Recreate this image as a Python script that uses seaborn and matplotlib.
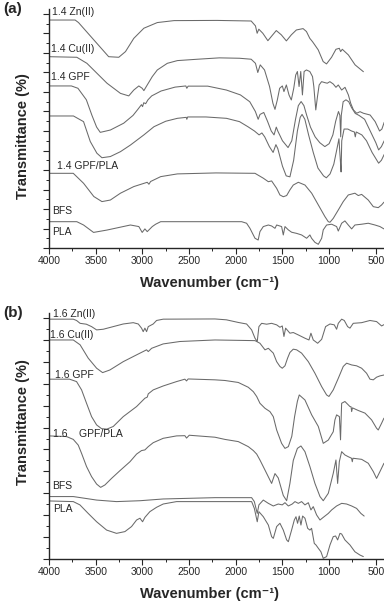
import numpy as np
import pandas as pd
import matplotlib
matplotlib.use("Agg")
import matplotlib.pyplot as plt
from matplotlib.ticker import MultipleLocator
import seaborn as sns

# FTIR spectra: (wavenumber in cm-1, transmittance in offset units)
# ---- panel (a), top to bottom ----
a_zn = [(4000, 11.69), (3720, 11.69), (3684, 11.56), (3361, 9.81), (3253, 9.78), (3181, 10.07),
        (3092, 10.75), (2984, 11.27), (2840, 11.56), (2661, 11.66), (2200, 11.67), (1835, 11.64),
        (1789, 11.39), (1771, 11.01), (1753, 11.22), (1710, 11.01), (1656, 10.63), (1620, 10.84),
        (1566, 11.15), (1512, 10.93), (1458, 10.62), (1405, 10.93), (1351, 11.18), (1279, 11.25),
        (1243, 11.10), (1207, 10.75), (1178, 10.58), (1153, 10.41), (1117, 10.16), (1064, 9.56),
        (1028, 9.44), (974, 9.78), (927, 10.19), (891, 10.24), (877, 10.07), (859, 10.19),
        (794, 9.90), (722, 9.39), (633, 9.04)]
a_cu = [(4000, 9.81), (3702, 9.78), (3594, 9.47), (3379, 8.45), (3235, 7.93), (3146, 7.80),
        (3092, 8.10), (3038, 8.31), (3002, 8.19), (2984, 8.07), (2948, 8.36), (2894, 8.79),
        (2840, 9.13), (2733, 9.47), (2625, 9.61), (2410, 9.68), (2176, 9.75), (1961, 9.73),
        (1835, 9.68), (1789, 9.47), (1764, 9.00), (1738, 9.39), (1692, 9.13), (1638, 8.28),
        (1602, 7.42), (1580, 7.11), (1555, 7.59), (1530, 8.19), (1501, 8.31), (1484, 8.02),
        (1458, 8.36), (1430, 7.85), (1405, 7.59), (1379, 8.19), (1358, 8.87), (1340, 9.05),
        (1322, 8.28), (1304, 9.05), (1286, 7.85), (1268, 9.05), (1243, 9.13), (1207, 9.05),
        (1178, 8.79), (1164, 8.28), (1143, 7.08), (1125, 7.76), (1107, 8.36), (1081, 8.53),
        (1046, 8.48), (1020, 8.45), (992, 8.53), (956, 8.41), (927, 8.24), (902, 8.36),
        (866, 8.10), (830, 8.24), (794, 7.85), (769, 7.42), (740, 7.08), (705, 6.91),
        (669, 6.99), (633, 6.91), (561, 6.82), (507, 6.48), (460, 6.00), (435, 6.10), (410, 6.45)]
a_gpf = [(4000, 8.31), (3760, 8.31), (3690, 8.19), (3600, 7.60), (3540, 6.80), (3490, 6.20),
         (3451, 5.93), (3343, 6.05), (3200, 6.40), (3100, 6.80), (3050, 7.10), (3010, 7.35),
         (2998, 7.25), (2985, 7.45), (2965, 7.40), (2940, 7.60), (2900, 7.80), (2800, 8.05),
         (2650, 8.25), (2535, 8.31), (2524, 8.19), (2510, 8.30), (2300, 8.30), (2100, 8.10),
         (1950, 7.85), (1850, 7.50), (1790, 7.00), (1760, 6.60), (1740, 6.85), (1700, 6.95),
         (1660, 6.50), (1620, 6.00), (1590, 5.80), (1566, 6.20), (1550, 6.00), (1500, 5.50),
         (1440, 5.15), (1400, 5.50), (1360, 6.60), (1330, 7.30), (1300, 7.51), (1270, 7.30),
         (1240, 6.80), (1200, 6.20), (1150, 5.70), (1100, 5.40), (1046, 5.20), (1000, 5.35),
         (960, 5.80), (930, 6.50), (900, 7.00), (885, 6.80), (876, 5.70), (870, 6.80),
         (850, 7.50), (820, 7.60), (790, 7.50), (760, 7.20), (720, 6.90), (680, 6.80),
         (620, 6.60), (560, 6.00), (500, 5.40), (470, 5.03), (440, 5.20), (410, 5.50)]
a_mix = [(4000, 6.77), (3738, 6.77), (3630, 6.48), (3558, 5.46), (3487, 4.86), (3433, 4.63),
         (3343, 4.69), (3235, 4.94), (3128, 5.28), (2984, 5.80), (2876, 6.22), (2750, 6.50),
         (2625, 6.65), (2530, 6.70), (2524, 6.60), (2515, 6.72), (2320, 6.72), (2100, 6.65),
         (1960, 6.48), (1870, 6.22), (1800, 6.00), (1750, 5.80), (1720, 5.90), (1690, 5.70),
         (1640, 5.20), (1600, 4.90), (1570, 5.30), (1550, 5.10), (1500, 4.20), (1460, 3.70),
         (1420, 3.65), (1380, 4.50), (1340, 6.00), (1310, 6.70), (1290, 6.85), (1260, 6.60),
         (1220, 5.80), (1170, 4.90), (1120, 4.10), (1060, 3.70), (1030, 3.60), (990, 3.80),
         (950, 4.30), (920, 5.00), (895, 5.60), (880, 4.50), (872, 3.90), (865, 5.50),
         (840, 6.10), (800, 6.10), (760, 6.00), (730, 5.95), (720, 5.70), (710, 5.95),
         (650, 5.80), (600, 5.50), (540, 4.90), (470, 4.35), (440, 4.50), (410, 4.80)]
a_gpfpla = [(4000, 3.83), (3740, 3.83), (3630, 3.32), (3520, 2.64), (3433, 2.38), (3343, 2.46),
            (3235, 2.81), (3092, 3.15), (2948, 3.37), (2930, 3.27), (2912, 3.41), (2804, 3.66),
            (2625, 3.80), (2212, 3.85), (1794, 3.83), (1705, 3.58), (1651, 3.40), (1616, 3.44),
            (1562, 3.06), (1527, 2.72), (1491, 2.63), (1455, 2.69), (1420, 2.98), (1384, 3.23),
            (1330, 3.37), (1259, 3.23), (1187, 2.81), (1116, 2.21), (1045, 1.61), (1009, 1.35),
            (991, 1.32), (956, 1.52), (902, 1.95), (849, 2.38), (795, 2.72), (724, 2.81),
            (688, 2.69), (652, 2.75), (581, 2.46), (527, 2.12), (474, 2.07), (438, 2.21), (413, 2.35)]
a_pla = [(4000, 1.35), (3702, 1.35), (3630, 1.18), (3523, 0.80), (3380, 0.92), (3128, 1.18),
         (3038, 1.10), (3002, 0.80), (2973, 0.98), (2948, 0.84), (2894, 1.10), (2858, 1.22),
         (2804, 1.35), (1937, 1.35), (1884, 1.27), (1848, 1.01), (1794, 0.50), (1760, 0.41),
         (1741, 0.84), (1705, 1.10), (1651, 1.18), (1616, 1.13), (1580, 1.01), (1562, 1.18),
         (1509, 1.10), (1491, 0.67), (1473, 1.10), (1437, 0.93), (1402, 0.81), (1348, 0.75),
         (1295, 0.67), (1241, 0.50), (1206, 0.67), (1188, 0.50), (1152, 0.29), (1116, 0.19),
         (1080, 0.50), (1063, 0.93), (1027, 1.18), (973, 1.22), (920, 1.10), (902, 0.87),
         (866, 1.27), (831, 1.39), (795, 1.18), (759, 0.98), (724, 1.18), (652, 1.22),
         (581, 1.27), (509, 1.18), (456, 1.10), (413, 0.98)]

# ---- panel (b), top to bottom ----
b_zn = [(4000, 10.95), (3740, 10.95), (3705, 10.89), (3667, 10.76), (3600, 10.72), (3544, 10.61),
        (3490, 10.46), (3419, 10.49), (3312, 10.61), (3205, 10.73), (3098, 10.79), (3044, 10.73),
        (3009, 10.54), (2991, 10.38), (2973, 10.54), (2955, 10.38), (2937, 10.61), (2884, 10.73),
        (2848, 10.89), (2777, 10.95), (2223, 10.96), (2100, 10.92), (1973, 10.80), (1884, 10.73),
        (1830, 10.46), (1794, 10.08), (1770, 9.93), (1752, 10.61), (1723, 10.76), (1670, 10.72),
        (1616, 10.76), (1562, 10.69), (1527, 10.58), (1502, 10.64), (1484, 10.16), (1466, 10.54),
        (1420, 10.31), (1384, 10.34), (1330, 10.23), (1259, 10.08), (1216, 10.00), (1195, 10.31),
        (1170, 10.00), (1123, 9.85), (1080, 10.03), (1038, 10.61), (991, 10.73), (945, 10.69),
        (920, 10.49), (902, 10.76), (866, 10.95), (838, 10.89), (802, 10.61), (777, 10.54),
        (742, 10.76), (652, 10.79), (563, 10.89), (492, 10.84), (438, 10.64), (413, 10.70)]
b_cu = [(4000, 10.00), (3740, 10.00), (3667, 9.78), (3580, 9.17), (3490, 8.71), (3426, 8.51),
        (3348, 8.63), (3205, 9.01), (3062, 9.32), (2955, 9.55), (2937, 9.47), (2901, 9.62),
        (2777, 9.82), (2598, 9.93), (2223, 10.00), (1794, 9.97), (1741, 9.85), (1687, 9.55),
        (1651, 9.62), (1598, 9.40), (1562, 9.01), (1527, 8.79), (1502, 8.71), (1473, 8.82),
        (1445, 9.17), (1420, 9.43), (1384, 9.58), (1348, 9.55), (1295, 9.40), (1223, 9.01),
        (1152, 8.48), (1080, 7.87), (1027, 7.49), (1002, 7.42), (956, 7.72), (902, 8.25),
        (849, 8.79), (813, 8.94), (759, 8.86), (706, 8.82), (652, 8.71), (599, 8.48),
        (563, 8.21), (527, 8.18), (492, 8.30), (456, 8.36), (413, 8.40)]
b_gpf = [(4000, 8.21), (3780, 8.21), (3705, 8.10), (3651, 7.72), (3598, 7.11), (3544, 6.50),
         (3490, 6.12), (3437, 5.95), (3380, 5.93), (3312, 6.05), (3205, 6.50), (3062, 6.96),
         (2973, 7.34), (2948, 7.39), (2937, 7.54), (2884, 7.72), (2777, 7.90), (2634, 8.10),
         (2545, 8.21), (2527, 8.13), (2510, 8.22), (2223, 8.18), (2116, 8.15), (1973, 8.06),
         (1866, 7.84), (1812, 7.64), (1776, 7.42), (1741, 7.11), (1687, 6.88), (1634, 6.73),
         (1598, 6.50), (1562, 5.89), (1509, 5.28), (1473, 5.05), (1437, 5.13), (1400, 5.60),
         (1370, 6.50), (1340, 7.20), (1320, 7.49), (1259, 7.26), (1187, 6.58), (1116, 6.05),
         (1063, 5.28), (1009, 5.43), (956, 5.81), (938, 6.35), (920, 6.58), (890, 6.50),
         (878, 5.44), (870, 6.60), (866, 7.11), (831, 7.19), (777, 6.96), (765, 6.95),
         (759, 6.73), (750, 6.90), (688, 6.78), (616, 6.66), (545, 6.35), (492, 5.97),
         (474, 5.89), (438, 6.20), (413, 6.43)]
b_gpfpla = [(4000, 5.62), (3812, 5.59), (3740, 5.46), (3687, 5.20), (3651, 4.82), (3598, 4.22),
            (3544, 3.76), (3490, 3.42), (3447, 3.27), (3401, 3.38), (3330, 3.68), (3241, 4.03),
            (3133, 4.44), (3062, 4.79), (3009, 4.95), (2973, 4.98), (2937, 5.13), (2884, 5.31),
            (2777, 5.51), (2634, 5.62), (2545, 5.63), (2527, 5.52), (2498, 5.65), (2223, 5.56),
            (2116, 5.46), (1973, 5.36), (1866, 5.13), (1812, 4.95), (1776, 4.79), (1741, 4.52),
            (1687, 4.06), (1616, 3.45), (1580, 3.90), (1545, 3.70), (1491, 2.90), (1455, 2.66),
            (1420, 3.45), (1384, 4.50), (1340, 5.05), (1302, 5.16), (1259, 4.90), (1206, 4.22),
            (1152, 3.45), (1098, 2.85), (1063, 2.66), (1009, 3.00), (956, 3.91), (927, 4.52),
            (909, 3.45), (891, 4.44), (866, 4.90), (831, 4.75), (795, 4.67), (760, 4.60),
            (752, 4.44), (745, 4.60), (652, 4.55), (581, 4.37), (527, 3.99), (492, 3.68),
            (456, 3.99), (413, 4.37)]
b_bfs = [(4000, 2.85), (3740, 2.85), (3490, 2.69), (3277, 2.62), (3026, 2.66), (2777, 2.74),
         (2223, 2.80), (1830, 2.80), (1801, 2.62), (1770, 2.08), (1752, 2.47), (1705, 2.69),
         (1651, 2.54), (1598, 2.42), (1545, 2.51), (1502, 2.47), (1473, 2.57), (1437, 2.42),
         (1395, 2.51), (1366, 2.62), (1330, 2.54), (1295, 2.62), (1259, 2.47), (1223, 2.57),
         (1195, 2.24), (1170, 2.39), (1134, 2.01), (1098, 1.78), (1063, 1.90), (1009, 2.08),
         (973, 2.24), (920, 2.42), (866, 2.54), (813, 2.51), (759, 2.42), (706, 2.31),
         (660, 2.08), (625, 1.96)]
b_pla = [(4000, 2.65), (3740, 2.62), (3669, 2.47), (3580, 2.08), (3490, 1.70), (3383, 1.32),
         (3277, 1.17), (3187, 1.25), (3116, 1.48), (3062, 1.78), (3026, 1.86), (2998, 1.70),
         (2973, 1.90), (2920, 2.16), (2848, 2.36), (2777, 2.51), (2634, 2.62), (1830, 2.62),
         (1801, 2.31), (1770, 1.70), (1752, 2.16), (1705, 1.93), (1651, 1.55), (1616, 1.02),
         (1598, 0.94), (1562, 1.48), (1527, 1.63), (1491, 1.32), (1455, 0.87), (1437, 0.79),
         (1402, 1.32), (1373, 1.78), (1355, 1.93), (1338, 1.63), (1320, 1.96), (1302, 1.55),
         (1284, 1.96), (1259, 1.86), (1230, 1.40), (1206, 1.32), (1188, 1.40), (1159, 0.71),
         (1141, 0.64), (1116, 0.49), (1088, 0.33), (1063, 0.03), (1027, 0.11), (991, 0.64),
         (956, 1.02), (931, 1.05), (909, 0.87), (884, 1.17), (866, 1.14), (831, 0.87),
         (777, 0.64), (724, 0.33), (670, 0.18), (634, 0.11)]

a_labels = ["1.4 Zn(II)", "1.4 Cu(II)", "1.4 GPF", "1.4 GPF/PLA", "BFS", "PLA"]
b_labels = ["1.6 Zn(II)", "1.6 Cu(II)", "1.6 GPF", "1.6    GPF/PLA", "BFS", "PLA"]
x_ticks = [4000, 3500, 3000, 2500, 2000, 1500, 1000, 500]

sns.set_theme(style="ticks")
plt.rcParams["font.family"] = ["Liberation Sans", "DejaVu Sans"]

LINE = "#6a6a6a"
INK = "#262626"


def to_frame(curves):
    frames = []
    for i, pts in enumerate(curves):
        arr = np.array(pts, dtype=float)
        frames.append(pd.DataFrame({"wn": arr[:, 0], "T": arr[:, 1], "curve": i}))
    return pd.concat(frames, ignore_index=True)


def draw_panel(ax, curves, labels, label_pos, ytop, tag, ylab_y, xlab_y):
    df = to_frame(curves)
    for i in df["curve"].unique():
        sns.lineplot(data=df[df["curve"] == i], x="wn", y="T", sort=False,
                     color=LINE, lw=0.75, ax=ax, legend=False)
    for text, (x, y) in zip(labels, label_pos):
        ax.text(x, y, text, fontsize=7.5, color=INK, ha="left", va="center")

    ax.set_xlim(4000, 410)
    ax.set_ylim(0, ytop)
    ax.set_xticks(x_ticks)
    ax.set_xticklabels([str(t) for t in x_ticks])
    ax.xaxis.set_minor_locator(MultipleLocator(250))
    ax.set_yticks(np.arange(0, int(ytop) + 1))
    ax.yaxis.set_minor_locator(MultipleLocator(0.5))
    ax.tick_params(axis="both", which="major", direction="out", length=4, width=0.8,
                   color=INK, labelsize=7.5, labelcolor=INK, pad=2)
    ax.tick_params(axis="both", which="minor", direction="out", length=2.2, width=0.7, color=INK)
    ax.tick_params(axis="y", labelleft=False)
    sns.despine(ax=ax)
    for s in ["left", "bottom"]:
        ax.spines[s].set_color(INK)
        ax.spines[s].set_linewidth(1.0)

    ax.set_xlabel("Wavenumber (cm⁻¹)", fontsize=10.5, fontweight="bold", color=INK)
    ax.xaxis.set_label_coords(0.48, xlab_y)
    ax.set_ylabel("Transmittance (%)", fontsize=10.5, fontweight="bold", color=INK)
    ax.yaxis.set_label_coords(-0.058, ylab_y)
    ax.text(-0.135, 1.0, tag, transform=ax.transAxes, fontsize=11, fontweight="bold",
            color=INK, ha="left", va="center")


fig = plt.figure(figsize=(3.84, 6.03), dpi=100)
ax_a = fig.add_axes([0.1276, 0.5887, 0.873, 0.3962])
ax_b = fig.add_axes([0.1276, 0.0730, 0.873, 0.4086])

draw_panel(ax_a, [a_zn, a_cu, a_gpf, a_mix, a_gpfpla, a_pla], a_labels,
           [(3968, 12.1), (3979, 10.2), (3979, 8.77), (3914, 4.2), (3968, 1.9), (3968, 0.82)],
           12.25, "(a)", 0.47, -0.118)
draw_panel(ax_b, [b_zn, b_cu, b_gpf, b_gpfpla, b_bfs, b_pla], b_labels,
           [(3957, 11.19), (3989, 10.23), (3936, 8.4), (3957, 5.71), (3968, 3.33), (3957, 2.28)],
           11.25, "(b)", 0.555, -0.112)

fig.savefig("out.png", dpi=100)
